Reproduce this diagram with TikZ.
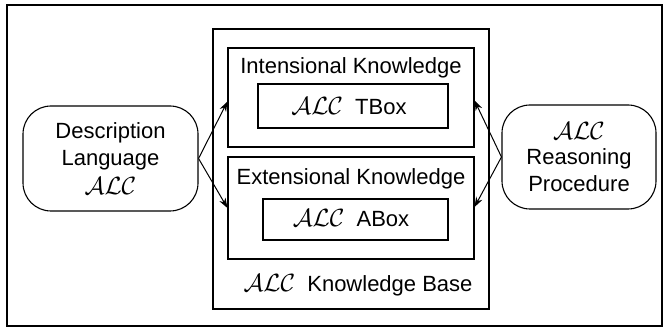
\documentclass[tikz,border=0pt]{standalone}
\usepackage{fontspec}
\setmainfont{Liberation Sans}
\usetikzlibrary{arrows.meta}
\newcommand{\ALCsym}{{\fontsize{29}{29}\selectfont\ensuremath{\mathcal{ALC}}}}
\begin{document}
\begin{tikzpicture}[x=1pt,y=-1pt,
  box/.style={draw,line width=1.1pt,inner sep=0pt},
  roundbox/.style={draw,line width=1.1pt,inner sep=0pt,rounded corners=28pt},
  lbl/.style={inner sep=0pt,font=\fontsize{22}{27}\selectfont,align=center},
  conn/.style={line width=1pt,-{Stealth[length=10pt,width=7pt]}}]
\useasboundingbox (0,0) rectangle (663,328);
\node[box,minimum width=655pt,minimum height=321pt] (frame) at (334.5,165.5) {};
\node[box,minimum width=276pt,minimum height=280pt] (kb) at (351,169) {};
\node[box,minimum width=246pt,minimum height=99pt] (int) at (351,97.5) {};
\node[box,minimum width=190pt,minimum height=44pt] (tbox) at (353,106) {};
\node[box,minimum width=246pt,minimum height=102pt] (ext) at (351,208) {};
\node[box,minimum width=185pt,minimum height=41pt] (abox) at (355.5,219.5) {};
\node[roundbox,minimum width=175pt,minimum height=105pt] (dl) at (110.5,158.5) {};
\node[roundbox,minimum width=154pt,minimum height=104pt] (rp) at (579,157) {};
\node[lbl] (intlbl) at (351,68) {Intensional Knowledge};
\node[lbl] (extlbl) at (351,179) {Extensional Knowledge};
\node[lbl] (tboxlbl) at (349,106) {\ALCsym\ \ TBox};
\node[lbl] (aboxlbl) at (351,218) {\ALCsym\ \ ABox};
\node[lbl] (kblbl) at (358,285) {\ALCsym\ \ Knowledge Base};
\node[lbl] (dltxt) at (110.5,159) {Description\\Language\\[2pt]\ALCsym};
\node[lbl] (rptxt) at (579,157) {\ALCsym\\[-2pt]Reasoning\\Procedure};
\draw[conn] (dl.east) -- ([yshift=-4pt]int.west);
\draw[conn] (dl.east) -- (ext.west);
\draw[conn] (rp.west) -- ([yshift=-3pt]int.east);
\draw[conn] (rp.west) -- ([yshift=1pt]ext.east);
\end{tikzpicture}
\end{document}
